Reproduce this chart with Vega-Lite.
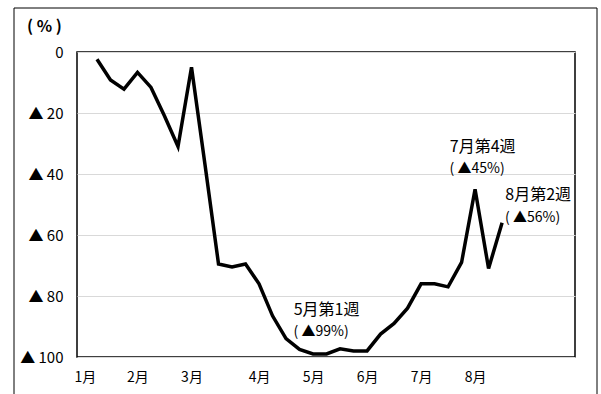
{
  "$schema": "https://vega.github.io/schema/vega-lite/v6.json",
  "autosize": "none",
  "width": 498,
  "height": 305,
  "padding": {"left": 77, "top": 52, "right": 26, "bottom": 37},
  "background": "white",
  "config": {
    "view": {"stroke": "black", "strokeWidth": 1.5},
    "font": "Noto Sans CJK JP"
  },
  "datasets": {
    "series": [
      {"week": 0, "value": 2.4},
      {"week": 1, "value": 9.2},
      {"week": 2, "value": 12.2},
      {"week": 3, "value": 6.7},
      {"week": 4, "value": 11.6},
      {"week": 5, "value": 21},
      {"week": 6, "value": 31},
      {"week": 7, "value": 5},
      {"week": 8, "value": 37},
      {"week": 9, "value": 69.5},
      {"week": 10, "value": 70.5},
      {"week": 11, "value": 69.5},
      {"week": 12, "value": 76},
      {"week": 13, "value": 86.5},
      {"week": 14, "value": 94},
      {"week": 15, "value": 97.5},
      {"week": 16, "value": 99},
      {"week": 17, "value": 99},
      {"week": 18, "value": 97.3},
      {"week": 19, "value": 98},
      {"week": 20, "value": 98},
      {"week": 21, "value": 92.5},
      {"week": 22, "value": 89},
      {"week": 23, "value": 84},
      {"week": 24, "value": 76},
      {"week": 25, "value": 76},
      {"week": 26, "value": 77},
      {"week": 27, "value": 69},
      {"week": 28, "value": 45},
      {"week": 29, "value": 71},
      {"week": 30, "value": 56}
    ],
    "noteTitles": [
      {"week": 17.0, "value": 84.6, "text": "5月第1週"},
      {"week": 28.56, "value": 31.1, "text": "7月第4週"},
      {"week": 32.67, "value": 46.9, "text": "8月第2週"}
    ],
    "notePcts": [
      {"week": 16.6, "value": 91.8, "text": "( ▲99%)"},
      {"week": 28.15, "value": 38.4, "text": "( ▲45%)"},
      {"week": 32.26, "value": 54.4, "text": "( ▲56%)"}
    ]
  },
  "layer": [
    {
      "data": {"name": "series"},
      "mark": {"type": "line", "color": "black", "strokeWidth": 3.5, "strokeJoin": "miter", "clip": false},
      "encoding": {
        "x": {
          "field": "week",
          "type": "quantitative",
          "scale": {"domain": [-1.48, 35.4], "nice": false, "zero": false},
          "axis": {
            "title": null,
            "values": [-0.9, 3, 7, 12, 16, 20, 24, 28],
            "labelExpr": "datum.value < 0 ? '1月' : datum.value == 3 ? '2月' : datum.value == 7 ? '3月' : datum.value == 12 ? '4月' : datum.value == 16 ? '5月' : datum.value == 20 ? '6月' : datum.value == 24 ? '7月' : '8月'",
            "grid": false,
            "ticks": false,
            "domain": false,
            "labelFontSize": 14,
            "labelColor": "black",
            "labelPadding": 13,
            "labelFlush": false,
            "labelOverlap": false
          }
        },
        "y": {
          "field": "value",
          "type": "quantitative",
          "scale": {"domain": [0, 100], "reverse": true, "nice": false},
          "axis": {
            "title": "( % )",
            "titleAngle": 0,
            "titleAlign": "center",
            "titleBaseline": "middle",
            "titleX": -33,
            "titleY": -26,
            "titleFontSize": 16,
            "titleFontWeight": "bold",
            "titleColor": "black",
            "values": [0, 20, 40, 60, 80, 100],
            "labelExpr": "datum.value == 0 ? '0' : '▲ ' + datum.value",
            "labelFontSize": 15,
            "labelColor": "black",
            "labelPadding": 14,
            "ticks": false,
            "domain": false,
            "grid": true,
            "gridColor": "#d9d9d9",
            "gridWidth": 1.2
          }
        }
      }
    },
    {
      "data": {"name": "noteTitles"},
      "mark": {"type": "text", "fontSize": 16, "color": "black", "align": "center", "baseline": "middle", "clip": false},
      "encoding": {
        "x": {"field": "week", "type": "quantitative"},
        "y": {"field": "value", "type": "quantitative"},
        "text": {"field": "text"}
      }
    },
    {
      "data": {"name": "notePcts"},
      "mark": {"type": "text", "fontSize": 14, "color": "black", "align": "center", "baseline": "middle", "clip": false},
      "encoding": {
        "x": {"field": "week", "type": "quantitative"},
        "y": {"field": "value", "type": "quantitative"},
        "text": {"field": "text"}
      }
    },
    {
      "data": {"values": [{}]},
      "mark": {"type": "rect", "fill": null, "stroke": "black", "strokeWidth": 1, "clip": false},
      "encoding": {
        "x": {"value": -63},
        "x2": {"value": 520},
        "y": {"value": -44},
        "y2": {"value": 360}
      }
    }
  ]
}
